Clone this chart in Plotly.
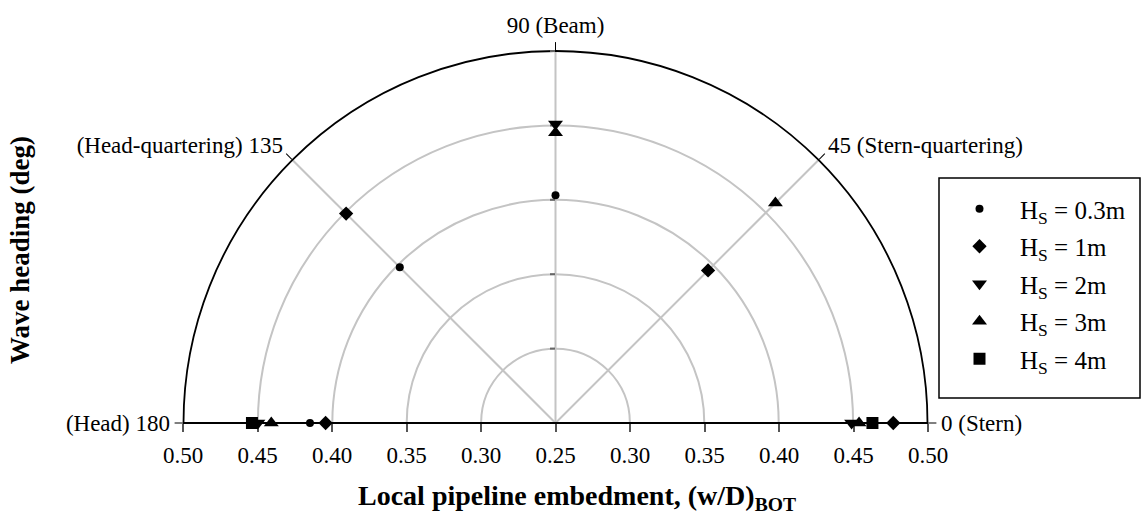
import plotly.graph_objects as go

# ---- data ----
angle_ticks = [0, 45, 90, 135, 180]
angle_labels = ["0 (Stern)", "45 (Stern-quartering)", "90 (Beam)",
                "(Head-quartering) 135", "(Head) 180"]

r_min, r_max = 0.25, 0.50
ring_vals = [0.30, 0.35, 0.40, 0.45, 0.50]
x_tick_offsets = [-0.25, -0.20, -0.15, -0.10, -0.05, 0.0, 0.05, 0.10, 0.15, 0.20, 0.25]
x_tick_labels = ["0.50", "0.45", "0.40", "0.35", "0.30", "0.25",
                 "0.30", "0.35", "0.40", "0.45", "0.50"]

hs03_theta = [180, 135, 90]
hs03_r = [0.415, 0.398, 0.403]

hs1_theta = [180, 135, 45, 0]
hs1_r = [0.4045, 0.449, 0.395, 0.477]

hs2_theta = [180, 90, 0]
hs2_r = [0.450, 0.451, 0.449]

hs3_theta = [180, 90, 45, 0]
hs3_r = [0.441, 0.445, 0.459, 0.454]

hs4_theta = [180, 0]
hs4_r = [0.454, 0.463]

series = [
    ("H<sub>S</sub> = 0.3m", hs03_theta, hs03_r, "circle", 8),
    ("H<sub>S</sub> = 1m", hs1_theta, hs1_r, "diamond", 11),
    ("H<sub>S</sub> = 2m", hs2_theta, hs2_r, "triangle-down", 13),
    ("H<sub>S</sub> = 3m", hs3_theta, hs3_r, "triangle-up", 13),
    ("H<sub>S</sub> = 4m", hs4_theta, hs4_r, "square", 12),
]

FONT = "Liberation Serif"
W, H = 1147, 514
L, R, T, B = 183, 219, 51, 91
pw, ph = W - L - R, H - T - B


def px_x(x):
    return (x - L) / pw


def px_y(y):
    return (H - B - y) / ph


fig = go.Figure()

for i, (name, th, rr, sym, sz) in enumerate(series):
    fig.add_trace(go.Scatterpolar(
        theta=th, r=rr, mode="markers", name=name,
        legendgroup=f"g{i}", cliponaxis=False,
        marker=dict(symbol=sym, size=sz, color="black", line=dict(width=0)),
    ))

# invisible cartesian trace to carry the bottom axis labels
fig.add_trace(go.Scatter(x=[], y=[], showlegend=False, hoverinfo="skip"))

fig.update_layout(
    width=W, height=H,
    margin=dict(l=L, r=R, t=T, b=B, autoexpand=False),
    paper_bgcolor="white", plot_bgcolor="rgba(0,0,0,0)",
    font=dict(family=FONT, size=23, color="black"),
    polar=dict(
        domain=dict(x=[0, 1], y=[0, 1]),
        sector=[0, 180],
        bgcolor="rgba(0,0,0,0)",
        radialaxis=dict(
            range=[r_min, r_max], tickvals=ring_vals,
            showticklabels=False, showline=False,
            showgrid=True, gridcolor="#c4c4c4", gridwidth=1.5,
            angle=90, side="counterclockwise",
            ticks="outside", ticklen=5, tickcolor="#666666", tickwidth=1.5,
            layer="below traces",
        ),
        angularaxis=dict(
            tickvals=angle_ticks, ticktext=angle_labels,
            direction="counterclockwise", rotation=0,
            showline=True, linecolor="black", linewidth=1.8,
            showgrid=True, gridcolor="#c4c4c4", gridwidth=1.5,
            ticks="outside", ticklen=8, tickcolor="black", tickwidth=1,
            tickfont=dict(family=FONT, size=23, color="black"),
            layer="below traces",
        ),
    ),
    xaxis=dict(
        domain=[0, 1],
        range=[x_tick_offsets[0], x_tick_offsets[-1]],
        tickvals=x_tick_offsets, ticktext=x_tick_labels,
        ticks="outside", ticklen=8, tickcolor="#555555", tickwidth=1.5,
        ticklabelstandoff=3,
        showgrid=False, zeroline=False, showline=False,
        tickfont=dict(family=FONT, size=23, color="black"),
        fixedrange=True,
    ),
    yaxis=dict(domain=[0, 1], range=[0, 1], visible=False, fixedrange=True),
    legend=dict(
        x=px_x(939), y=px_y(186), xanchor="left", yanchor="top",
        bgcolor="rgba(0,0,0,0)", borderwidth=0,
        font=dict(family=FONT, size=25, color="black"),
        itemwidth=71, tracegroupgap=2,
    ),
    showlegend=True,
    shapes=[
        dict(type="rect", xref="paper", yref="paper",
             x0=px_x(939), x1=px_x(1140), y0=px_y(398), y1=px_y(178),
             line=dict(color="black", width=1.5), fillcolor="rgba(0,0,0,0)",
             layer="below"),
    ],
    annotations=[
        dict(text="<b>Wave heading (deg)</b>", xref="paper", yref="paper",
             x=px_x(20), y=px_y(250), textangle=-90,
             showarrow=False, font=dict(family=FONT, size=27, color="black"),
             xanchor="center", yanchor="middle"),
        dict(text="<b>Local pipeline embedment, (w/D)<sub>BOT</sub></b>",
             xref="paper", yref="paper",
             x=px_x(577), y=px_y(497),
             showarrow=False, font=dict(family=FONT, size=28, color="black"),
             xanchor="center", yanchor="middle"),
    ],
)

fig.write_html("out.html", config={"displayModeBar": False},
               post_script="document.body.style.margin='0';")
